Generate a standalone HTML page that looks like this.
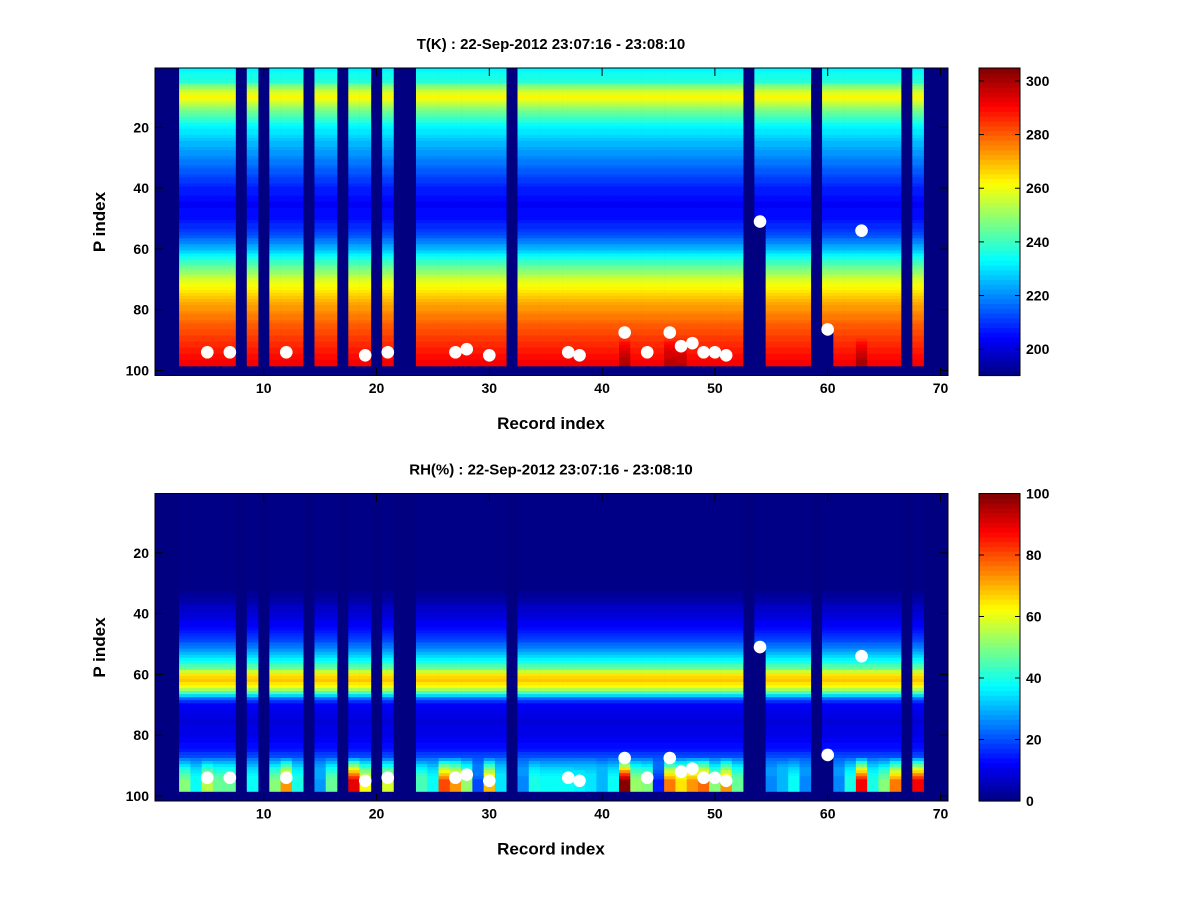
<!DOCTYPE html>
<html><head><meta charset="utf-8"><style>
body{margin:0;background:#fff;}
svg text{font-family:"Liberation Sans",sans-serif;font-weight:bold;fill:#000;}
</style></head><body>
<svg id="fig" width="1200" height="900" xmlns="http://www.w3.org/2000/svg">
<rect width="1200" height="900" fill="#fff"/>
<defs>
<clipPath id="clipT"><rect x="155" y="68" width="793" height="307.5"/></clipPath>
<clipPath id="clipR"><rect x="155" y="493.5" width="793" height="307.5"/></clipPath>
</defs>
<g id="root"></g>
</svg>
<script>
// ---- data ----
const missingCols = [1,2,8,10,14,17,20,22,23,32,53,59,67,69,70,71];
const partialCols = [54,60];
const partialMaxP = [51,86];
const tLevels = [1,5,8,10,12,15,20,30,40,45,50,55,60,65,70,75,80,85,90,95,98];
const tProfile = [232,238,256,262,256,245,232,220,208,204,206,212,226,242,257,267,274,280,285,289,292];
const tHotCols = [42,46,47,63];
const tHotVals = [300,299,298,301];
const rhLevels = [1,30,34,40,45,50,55,58,60,62,64,66,68,70,75,80,85,88,92,95,98];
const rhProfile = [0,0,3,8,13,22,36,48,65,68,62,45,22,12,9,10,15,22,32,38,40];
const rhBottomCols = [3,4,5,6,7,9,11,12,13,15,16,18,19,21,24,25,26,27,28,29,30,31,33,34,35,36,37,38,39,40,41,42,43,44,45,46,47,48,49,50,51,52,55,56,57,58,61,62,63,64,65,66,68];
const rhBottomVals = [50,38,55,48,48,38,50,72,40,28,48,90,62,58,45,38,80,72,52,20,70,35,25,40,38,38,38,36,35,30,38,100,52,50,15,75,65,72,78,50,72,48,25,30,38,25,25,40,88,40,50,75,88];
const markRec = [5,7,12,19,21,27,28,30,37,38,42,44,46,47,48,49,50,51,54,60,63];
const markP = [94,94,94,95,94,94,93,95,94,95,87.5,94,87.5,92,91,94,94,95,51,86.5,54];
const xTicks = [10,20,30,40,50,60,70];
const yTicks = [20,40,60,80,100];
const tCbTicks = [200,220,240,260,280,300];
const rhCbTicks = [0,20,40,60,80,100];
const tMin = 190.2, tMax = 304.8, rhMin = 0, rhMax = 100;

// ---- helpers ----
const NS = "http://www.w3.org/2000/svg";
const root = document.getElementById('root');
function el(tag, attrs, parent){const e=document.createElementNS(NS,tag);for(const k in attrs)e.setAttribute(k,attrs[k]);(parent||root).appendChild(e);return e;}
const X = u => 150.9 + 11.28*u;
const Y = (p,off) => 66.5 + 3.04*p + off;
function jet(v){let i=Math.floor(v*64);if(i<0)i=0;if(i>63)i=63;const t=(i+0.5)/64;
 const c=x=>Math.round(255*Math.max(0,Math.min(1,x)));
 return `rgb(${c(1.5-Math.abs(4*t-3))},${c(1.5-Math.abs(4*t-2))},${c(1.5-Math.abs(4*t-1))})`;}
function interp(levels, vals, p){if(p<=levels[0])return vals[0];for(let i=1;i<levels.length;i++){if(p<=levels[i]){const f=(p-levels[i-1])/(levels[i]-levels[i-1]);return vals[i-1]+f*(vals[i]-vals[i-1]);}}return vals[vals.length-1];}
function maxP(k){const i=partialCols.indexOf(k);return i>=0?partialMaxP[i]:98;}

function drawPanel(off, clip, kind){
 const g=el('g',{'clip-path':`url(#${clip})`});
 
 
 el('rect',{x:155,y:68+off,width:793,height:307.5,fill:'#000080'},g);
 for(let k=1;k<=71;k++){
  if(missingCols.includes(k))continue;
  const mp=maxP(k);
  for(let p=1;p<=mp;p++){
   let v;
   if(kind==='T'){
    v=interp(tLevels,tProfile,p);
    const h=tHotCols.indexOf(k);
    if(h>=0&&p>=90)v=v+(tHotVals[h]-v)*(p-89)/9;
   } else {
    v=interp(rhLevels,rhProfile,p);
    const b=rhBottomCols.indexOf(k);
    if(b>=0&&p>=88)v=v+(rhBottomVals[b]-v)*Math.min(1,(p-87)/8);
   }
   const c=kind==='T'?jet((v-tMin)/(tMax-tMin)):jet((v-rhMin)/(rhMax-rhMin));
   const r=el('rect',{x:X(k-0.5).toFixed(2),y:Y(p-0.5,off).toFixed(2),width:11.6,height:3.4,fill:c},g);
   
   
  }
 }
 for(let i=0;i<markRec.length;i++){
  const m=el('circle',{cx:X(markRec[i]),cy:Y(markP[i],off),r:6.3,fill:'#fff'},g);
  
  
 }
 const ax=el('g',{});
 
 
 el('rect',{x:155,y:68+off,width:793,height:307.5,fill:'none',stroke:'#000','stroke-width':1},ax);
 xTicks.forEach(t=>{const x=X(t);
  el('line',{x1:x,y1:375.5+off,x2:x,y2:367.5+off,stroke:'#000'},ax);
  el('line',{x1:x,y1:68+off,x2:x,y2:76+off,stroke:'#000'},ax);
  const tx=el('text',{x:x,y:393+off,'font-size':14,'text-anchor':'middle'},ax);tx.textContent=t;
  
  
 });
 yTicks.forEach(t=>{const y=Y(t,off);
  el('line',{x1:155,y1:y,x2:163,y2:y,stroke:'#000'},ax);
  el('line',{x1:948,y1:y,x2:940,y2:y,stroke:'#000'},ax);
  const tx=el('text',{x:149,y:y+5,'font-size':14,'text-anchor':'end'},ax);tx.textContent=t;
  
  
 });
 const ti=el('text',{x:551,y:49+off,'font-size':15,'text-anchor':'middle'},ax);
 ti.textContent=(kind==='T'?'T(K)':'RH(%)')+' : 22-Sep-2012 23:07:16 - 23:08:10';
 
 
 const xl=el('text',{x:551,y:429+off,'font-size':17,'text-anchor':'middle'},ax);xl.textContent='Record index';
 
 
 const yl=el('text',{x:0,y:0,'font-size':17,'text-anchor':'middle',transform:`translate(105,${222+off}) rotate(-90)`},ax);yl.textContent='P index';
 
 
 const cb=el('g',{});
 
 
 const top=68+off,h=307.5;
 for(let i=0;i<64;i++){
  el('rect',{x:979,y:(top+h-(i+1)*h/64).toFixed(2),width:41,height:(h/64+0.6).toFixed(2),fill:jet((i+0.5)/64)},cb);
 }
 el('rect',{x:979,y:top,width:41,height:h,fill:'none',stroke:'#000'},cb);
 const lo=kind==='T'?tMin:rhMin, hi=kind==='T'?tMax:rhMax;
 (kind==='T'?tCbTicks:rhCbTicks).forEach(t=>{const y=top+h-(t-lo)/(hi-lo)*h;
  el('line',{x1:979,y1:y,x2:984,y2:y,stroke:'#000'},cb);
  el('line',{x1:1020,y1:y,x2:1015,y2:y,stroke:'#000'},cb);
  const tx=el('text',{x:1026,y:y+5,'font-size':14},cb);tx.textContent=t;
  
  
 });
}
drawPanel(0,'clipT','T');
drawPanel(425.5,'clipR','RH');
</script>
</body></html>
